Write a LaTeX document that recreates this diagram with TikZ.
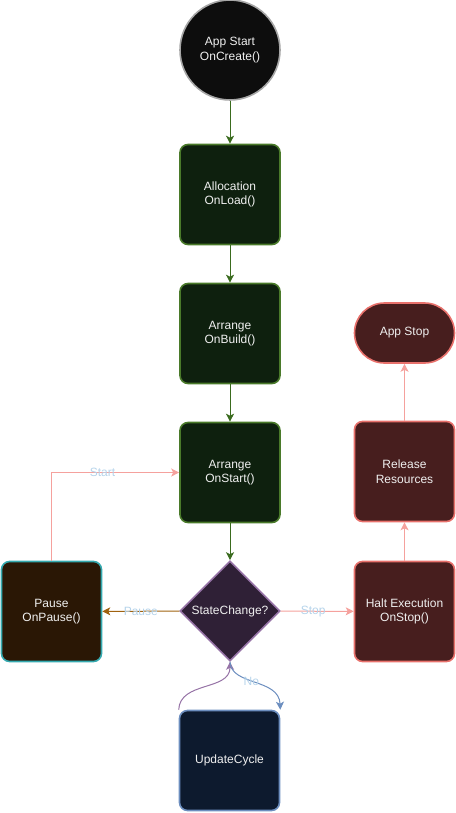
\documentclass[tikz,border=0pt]{standalone}
\usepackage{fontspec}
\setmainfont{Liberation Sans}
\usepackage{xcolor}
\usetikzlibrary{shapes.geometric,arrows.meta}

\definecolor{greenfill}{HTML}{0E200E}
\definecolor{greenline}{HTML}{4A7A2A}
\definecolor{greenedge}{HTML}{3A6B1E}
\definecolor{redfill}{HTML}{471E1E}
\definecolor{redline}{HTML}{E8716C}
\definecolor{pinkedge}{HTML}{F5A19D}
\definecolor{purplefill}{HTML}{2F2036}
\definecolor{purpleline}{HTML}{9673A6}
\definecolor{brownfill}{HTML}{2A1705}
\definecolor{tealline}{HTML}{35AAB0}
\definecolor{brownedge}{HTML}{A0620F}
\definecolor{bluefill}{HTML}{0D1A2E}
\definecolor{blueline}{HTML}{6C8EBF}
\definecolor{labelblue}{HTML}{B5D3EA}
\definecolor{nodetext}{HTML}{F0F0F0}

\tikzset{
  box/.style={draw,line width=1.2pt,rounded corners=6pt,minimum width=75pt,minimum height=75pt,
    text=nodetext,align=center,font=\fontsize{9}{11}\selectfont},
  procbox/.style={box,fill=greenfill,draw=greenline},
  stopbox/.style={box,fill=redfill,draw=redline},
  pausebox/.style={box,fill=brownfill,draw=tealline},
  loopbox/.style={box,fill=bluefill,draw=blueline},
  endnode/.style={box,fill=redfill,draw=redline,minimum height=45pt,rounded corners=22.5pt},
  startnode/.style={circle,draw=gray!70,line width=1.2pt,fill=black!95,minimum size=75pt,inner sep=0pt,
    text=nodetext,align=center,font=\fontsize{9}{11}\selectfont},
  decision/.style={diamond,aspect=1,draw=purpleline,line width=1.2pt,fill=purplefill,minimum size=75pt,
    inner sep=0pt,text=nodetext,font=\fontsize{9}{11}\selectfont},
  edge/.style={-{Stealth[length=6pt,width=6pt,inset=1.5pt]},line width=0.75pt},
  edgelabel/.style={text=labelblue,font=\fontsize{9}{11}\selectfont,inner sep=1pt}
}

\begin{document}
\begin{tikzpicture}[x=0.75pt,y=-0.75pt]
    \useasboundingbox (0,0) rectangle (456,813);
    % main column
    \node[startnode] (start) at (230,50) {App Start\\OnCreate()};
    \node[procbox] (alloc) at (230,194.5) {Allocation\\OnLoad()};
    \node[procbox] (build) at (230,333.5) {Arrange\\OnBuild()};
    \node[procbox] (onstart) at (230,472.5) {Arrange\\OnStart()};
    \node[decision] (state) at (230,611) {StateChange?};
    \node[loopbox] (update) at (229.5,760.5) {UpdateCycle};
    % sides
    \node[pausebox] (pause) at (51.5,611.5) {Pause\\OnPause()};
    \node[stopbox] (halt) at (404.5,611.5) {Halt Execution\\OnStop()};
    \node[stopbox] (release) at (404.5,471.5) {Release\\Resources};
    \node[endnode] (stop) at (404.5,333) {App Stop};

    \draw[edge,greenedge] (start) -- (alloc);
    \draw[edge,greenedge] (alloc) -- (build);
    \draw[edge,greenedge] (build) -- (onstart);
    \draw[edge,greenedge] (onstart) -- (state);
    \draw[edge,brownedge] (state) -- node[edgelabel]{Pause} (pause);
    \draw[edge,pinkedge] (pause) |- node[edgelabel,pos=0.7]{Start} (onstart);
    \draw[edge,pinkedge] (state) -- node[edgelabel,xshift=-3pt]{Stop} (halt);
    \draw[edge,pinkedge] (halt) -- (release);
    \draw[edge,pinkedge] (release) -- (stop);
    \draw[edge,purpleline] (update.north west) .. controls (180,681) and (230,691) .. (state.south);
    \draw[edge,blueline] (state.south) .. controls (231,686) and (279,678) .. node[edgelabel,pos=0.45]{No} (update.north east);
\end{tikzpicture}
\end{document}
